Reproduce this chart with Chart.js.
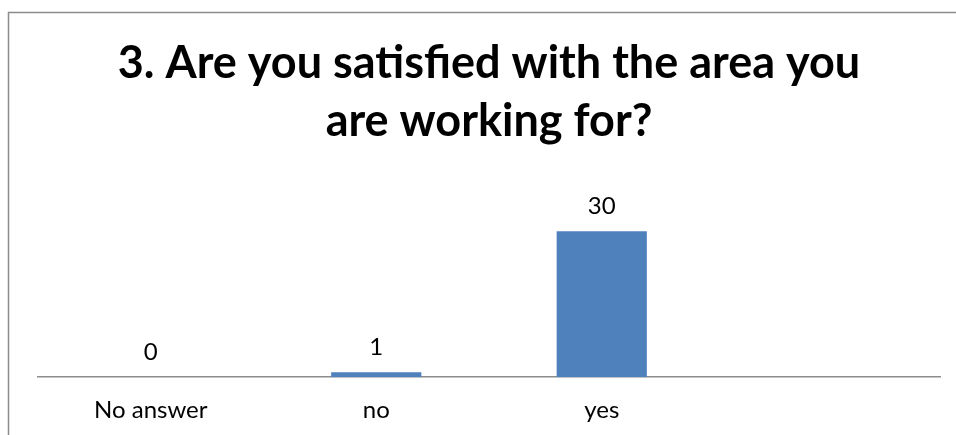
<!DOCTYPE html>
<html>
<head>
<meta charset="utf-8">
<script src="https://cdn.jsdelivr.net/npm/chart.js@4/dist/chart.umd.min.js"></script>
<style>
  html, body { margin: 0; padding: 0; background: #fff; }
  #wrap { width: 956px; height: 435px; position: relative; }
</style>
</head>
<body>
<div id="wrap"><canvas id="chart" width="956" height="435"></canvas></div>
<script>
const categories = ['No answer', 'no', 'yes', ''];
const answers = [0, 1, 30, null];
const titleLines = ['3. Are you satisfied with the area you', 'are working for?'];

// frame line on the top and left edge
const framePlugin = {
    id: 'frame',
    beforeDraw(chart) {
        const ctx = chart.ctx;
        ctx.save();
        ctx.strokeStyle = '#8c8c8c';
        ctx.lineWidth = 1.5;
        ctx.beginPath();
        ctx.moveTo(8.5, 435);
        ctx.lineTo(8.5, 12.5);
        ctx.lineTo(956, 12.5);
        ctx.stroke();
        ctx.restore();
    }
};

// value written above each bar
const valueLabels = {
    id: 'valueLabels',
    afterDatasetsDraw(chart) {
        const ctx = chart.ctx;
        const meta = chart.getDatasetMeta(0);
        ctx.save();
        ctx.font = '24px Lato';
        ctx.fillStyle = '#000';
        ctx.textAlign = 'center';
        ctx.textBaseline = 'middle';
        meta.data.forEach((bar, i) => {
            const v = answers[i];
            if (v === null || v === undefined) return;
            ctx.fillText(String(v), bar.x, bar.y - 25);
        });
        ctx.restore();
    }
};

new Chart(document.getElementById('chart').getContext('2d'), {
    type: 'bar',
    data: {
        labels: categories,
        datasets: [{
            data: answers,
            backgroundColor: '#4F81BD',
            barPercentage: 0.4,
            categoryPercentage: 1
        }]
    },
    options: {
        responsive: false,
        animation: false,
        layout: { padding: { left: 38, right: 16, top: 34, bottom: -9 } },
        plugins: {
            legend: { display: false },
            tooltip: { enabled: false },
            title: {
                display: true,
                text: titleLines,
                color: '#000',
                font: { family: 'Lato', size: 45, weight: 'bold', lineHeight: 1.3 },
                padding: { top: 0, bottom: 56 }
            }
        },
        scales: {
            x: {
                grid: { display: false, drawTicks: false },
                border: { display: true, color: '#8c8c8c', width: 1.5 },
                ticks: { color: '#000', font: { family: 'Lato', size: 24 }, padding: 19 }
            },
            y: {
                display: false,
                min: 0,
                max: 35
            }
        }
    },
    plugins: [framePlugin, valueLabels]
});
</script>
</body>
</html>
